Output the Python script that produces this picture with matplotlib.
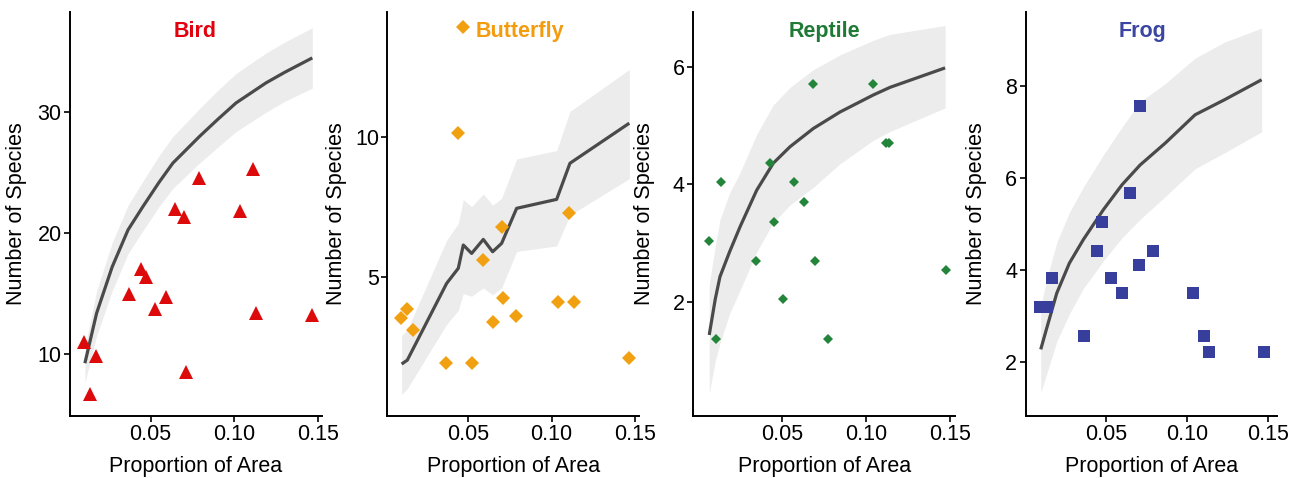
import matplotlib
matplotlib.use("Agg")
import matplotlib.pyplot as plt
import numpy as np

plt.rcParams['font.family'] = ['Liberation Sans', 'DejaVu Sans']

# ---------------- data ----------------
bird_x = [0.0101, 0.0171, 0.0137, 0.0369, 0.0445, 0.0470, 0.0524, 0.0593, 0.0647, 0.0702,
          0.0712, 0.0786, 0.1036, 0.1113, 0.1129, 0.1466]
bird_y = [11.0, 9.8, 6.7, 14.95, 17.0, 16.4, 13.7, 14.75, 22.0, 21.3,
          8.5, 24.6, 21.85, 25.3, 13.4, 13.25]
bird_cx = [0.0107, 0.0177, 0.027, 0.0365, 0.0454, 0.055, 0.0633, 0.0792, 0.090, 0.101, 0.1189, 0.130, 0.1466]
bird_cy = [9.23, 13.37, 17.2, 20.27, 22.2, 24.2, 25.8, 28.0, 29.4, 30.77, 32.43, 33.3, 34.5]
bird_up = [10.5, 15.2, 19.2, 22.3, 24.3, 26.4, 28.0, 30.3, 31.8, 33.2, 34.9, 35.8, 37.0]
bird_lo = [7.6, 11.5, 15.2, 18.3, 20.2, 22.2, 23.7, 25.8, 27.1, 28.4, 30.0, 30.9, 32.0]

fly_x = [0.0470, 0.0440, 0.0094, 0.0134, 0.0166, 0.0364, 0.0520, 0.0590, 0.0646, 0.0700,
         0.0706, 0.0786, 0.1037, 0.1106, 0.1134, 0.1466]
fly_y = [13.93, 10.12, 3.51, 3.84, 3.10, 1.91, 1.91, 5.60, 3.39, 6.79,
         4.25, 3.61, 4.11, 7.29, 4.11, 2.09]
fly_cx = [0.010, 0.0134, 0.037, 0.044, 0.047, 0.052, 0.059, 0.0646, 0.070, 0.079, 0.103, 0.111, 0.1466]
fly_cy = [1.88, 2.02, 4.76, 5.30, 6.13, 5.83, 6.33, 5.89, 6.19, 7.44, 7.76, 9.05, 10.48]
fly_up = [2.9, 3.1, 6.3, 6.9, 7.75, 7.5, 7.95, 7.55, 7.8, 9.2, 9.5, 10.9, 12.4]
fly_lo = [0.8, 1.0, 3.3, 3.8, 4.4, 4.3, 4.6, 4.35, 4.6, 5.9, 6.1, 7.2, 8.5]

rep_x = [0.0064, 0.0104, 0.0134, 0.0343, 0.0427, 0.0450, 0.0502, 0.0572, 0.0629, 0.0685,
         0.0695, 0.0775, 0.1039, 0.1119, 0.1139, 0.1477]
rep_y = [3.04, 1.38, 4.04, 2.70, 4.37, 3.36, 2.06, 4.04, 3.70, 5.70,
         2.70, 1.38, 5.70, 4.71, 4.71, 2.54]
rep_cx = [0.0064, 0.0100, 0.0128, 0.0185, 0.0248, 0.0347, 0.0446, 0.0546, 0.0685, 0.0844, 0.1043, 0.1143, 0.1471]
rep_cy = [1.44, 2.05, 2.43, 2.85, 3.28, 3.90, 4.36, 4.64, 4.95, 5.23, 5.52, 5.65, 5.98]
rep_up = [2.3, 2.95, 3.4, 3.85, 4.2, 4.85, 5.35, 5.65, 5.95, 6.2, 6.45, 6.55, 6.7]
rep_lo = [0.45, 1.0, 1.3, 1.8, 2.2, 2.85, 3.35, 3.65, 3.95, 4.35, 4.75, 4.9, 5.3]

frog_x = [0.0093, 0.0139, 0.0166, 0.0368, 0.0444, 0.0475, 0.0531, 0.0599, 0.0650, 0.0706,
          0.0712, 0.0791, 0.1042, 0.1110, 0.1135, 0.1475]
frog_y = [3.19, 3.19, 3.82, 2.56, 4.42, 5.05, 3.82, 3.51, 5.67, 4.11,
          7.55, 4.42, 3.51, 2.56, 2.23, 2.23]
frog_cx = [0.0098, 0.0135, 0.0197, 0.0275, 0.0361, 0.0485, 0.060, 0.0712, 0.0869, 0.1052, 0.1236, 0.1463]
frog_cy = [2.28, 2.74, 3.50, 4.15, 4.66, 5.31, 5.85, 6.28, 6.76, 7.37, 7.70, 8.13]
frog_up = [3.2, 3.8, 4.6, 5.25, 5.8, 6.5, 7.1, 7.65, 8.05, 8.6, 8.95, 9.25]
frog_lo = [1.35, 1.75, 2.45, 3.05, 3.6, 4.2, 4.7, 5.1, 5.6, 6.2, 6.55, 7.0]

titles = ["Bird", "Butterfly", "Reptile", "Frog"]
xtick_vals = [0.05, 0.10, 0.15]
xtick_labels = ["0.05", "0.10", "0.15"]
bird_yticks = [10, 20, 30]
fly_yticks = [5, 10]
rep_yticks = [2, 4, 6]
frog_yticks = [2, 4, 6, 8]

# ---------------- layout ----------------
W, H = 1302, 478
fig = plt.figure(figsize=(W / 100, H / 100), dpi=100)

panels = [
    dict(rect=(70, 322), xlim=(0.0018, 0.1524), ylim=(4.86, 38.3), yt=bird_yticks,
         px=bird_x, py=bird_y, cx=bird_cx, cy=bird_cy, up=bird_up, lo=bird_lo,
         marker='^', ms=9.5, mc='#DC0A0A', tc='#E3000F', tx=0.496, ylx=-0.171),
    dict(rect=(387.3, 639.3), xlim=(0.0014, 0.1526), ylim=(0.025, 14.45), yt=fly_yticks,
         px=fly_x, py=fly_y, cx=fly_cx, cy=fly_cy, up=fly_up, lo=fly_lo,
         marker='D', ms=7, mc='#F0A010', tc='#F39C0E', tx=0.527, ylx=-0.16),
    dict(rect=(693.3, 955), xlim=(-0.0031, 0.153), ylim=(0.063, 6.93), yt=rep_yticks,
         px=rep_x, py=rep_y, cx=rep_cx, cy=rep_cy, up=rep_up, lo=rep_lo,
         marker='D', ms=5.5, mc='#23853A', tc='#1E7A34', tx=0.501, ylx=-0.146),
    dict(rect=(1025.7, 1277.3), xlim=(0.0005, 0.156), ylim=(0.834, 9.6), yt=frog_yticks,
         px=frog_x, py=frog_y, cx=frog_cx, cy=frog_cy, up=frog_up, lo=frog_lo,
         marker='s', ms=8, mc='#383E9C', tc='#3A46A0', tx=0.466, ylx=-0.154),
]

top_px, bot_px = 12, 416
for i, p in enumerate(panels):
    l, r = p['rect']
    ax = fig.add_axes([l / W, 1 - bot_px / H, (r - l) / W, (bot_px - top_px) / H])
    ax.fill_between(p['cx'], p['lo'], p['up'], color='#ececec', lw=0, zorder=1)
    ax.plot(p['cx'], p['cy'], color='#4a4a4a', lw=2.3, zorder=2, solid_capstyle='butt',
            solid_joinstyle='round')
    ax.plot(p['px'], p['py'], ls='none', marker=p['marker'], ms=p['ms'],
            mfc=p['mc'], mec=p['mc'], mew=0, zorder=3)
    ax.set_xlim(*p['xlim'])
    ax.set_ylim(*p['ylim'])
    ax.set_xticks(xtick_vals)
    ax.set_xticklabels(xtick_labels)
    ax.set_yticks(p['yt'])
    for s in ['top', 'right']:
        ax.spines[s].set_visible(False)
    for s in ['left', 'bottom']:
        ax.spines[s].set_linewidth(1.4)
    ax.tick_params(axis='both', labelsize=15.5, length=4, width=1.2, pad=2, colors='black')
    ax.set_xlabel("Proportion of Area", fontsize=15.5)
    ax.set_ylabel("Number of Species", fontsize=15.5)
    ax.xaxis.set_label_coords(0.5, -0.098)
    ax.yaxis.set_label_coords(p['ylx'], 0.5)
    ax.text(p['tx'], 0.951, titles[i], transform=ax.transAxes, ha='center', va='center',
            fontsize=15.5, fontweight='bold', color=p['tc'])

fig.savefig("out.png", dpi=100)
